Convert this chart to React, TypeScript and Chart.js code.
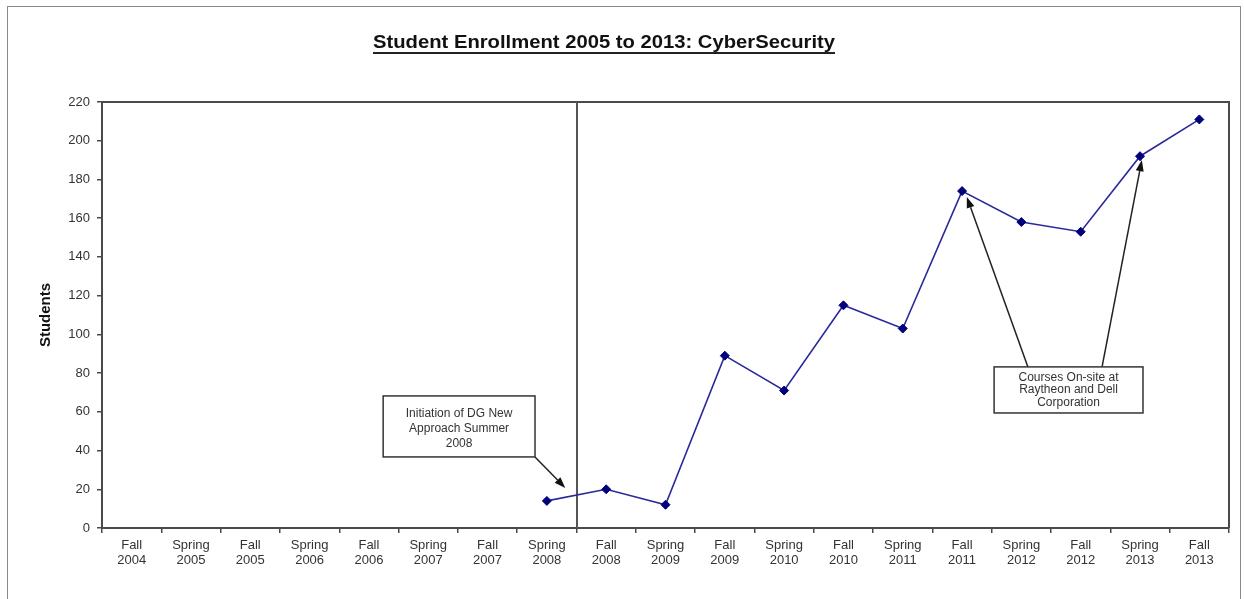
import React, { useEffect, useRef } from "react";
import { Chart, registerables } from "chart.js";

Chart.register(...registerables);

const TITLE = "Student Enrollment 2005 to 2013: CyberSecurity";
const Y_TITLE = "Students";
const CATEGORIES: string[][] = [
  ["Fall", "2004"], ["Spring", "2005"], ["Fall", "2005"], ["Spring", "2006"],
  ["Fall", "2006"], ["Spring", "2007"], ["Fall", "2007"], ["Spring", "2008"],
  ["Fall", "2008"], ["Spring", "2009"], ["Fall", "2009"], ["Spring", "2010"],
  ["Fall", "2010"], ["Spring", "2011"], ["Fall", "2011"], ["Spring", "2012"],
  ["Fall", "2012"], ["Spring", "2013"], ["Fall", "2013"],
];
const STUDENTS: (number | null)[] = [
  null, null, null, null, null, null, null, 14,
  20, 12, 89, 71, 115, 103, 174, 158, 153, 192, 211,
];
const Y_MIN = 0;
const Y_MAX = 220;
const Y_STEP = 20;

// divider between Spring 2008 and Fall 2008 (category index units)
const DIVIDER_AT = 7.5;

// annotation boxes in data units (x = category index, y = students)
const BOX_TEXTS: string[][] = [
  ["Initiation of DG New", "Approach Summer", "2008"],
  ["Courses On-site at", "Raytheon and Dell", "Corporation"],
];
const BOX_X0 = [4.24, 14.54];
const BOX_X1 = [6.8, 17.05];
const BOX_YTOP = [68.2, 83.2];
const BOX_YBOT = [36.7, 59.4];
const BOX_LINE_H = [15, 12.5];

// arrows: from -> to in data units
const ARROW_FROM_X = [6.8, 15.11, 16.36];
const ARROW_FROM_Y = [36.7, 83.2, 83.2];
const ARROW_TO_X = [7.31, 14.08, 17.03];
const ARROW_TO_Y = [20.7, 171, 190];

const FONT = "'Liberation Sans', Arial, sans-serif";
const AXIS_COLOR = "#4a4a4a";

const decorations = {
  id: "decorations",
  beforeDraw(chart: any) {
    const ctx = chart.ctx;
    ctx.save();
    ctx.fillStyle = "#ffffff";
    ctx.fillRect(0, 0, chart.width, chart.height);
    // outer frame
    ctx.strokeStyle = "#8a8a8a";
    ctx.lineWidth = 1;
    ctx.strokeRect(7.5, 6.5, 1233, chart.height + 10);
    // title, stretched horizontally
    ctx.font = `bold 18px ${FONT}`;
    ctx.fillStyle = "#111";
    ctx.textBaseline = "alphabetic";
    ctx.textAlign = "center";
    const w = ctx.measureText(TITLE).width;
    const target = 462;
    const cx = 604;
    ctx.translate(cx, 47.5);
    ctx.scale(target / w, 1);
    ctx.fillText(TITLE, 0, 0);
    ctx.setTransform(1, 0, 0, 1, 0, 0);
    ctx.fillStyle = "#222";
    ctx.fillRect(cx - target / 2, 52, target, 2);
    ctx.restore();
  },
  beforeDatasetsDraw(chart: any) {
    const ctx = chart.ctx;
    const { left, right, top, bottom } = chart.chartArea;
    const xs = chart.scales.x;
    ctx.save();
    ctx.strokeStyle = AXIS_COLOR;
    ctx.lineWidth = 2;
    ctx.beginPath();
    ctx.moveTo(left, top);
    ctx.lineTo(right, top);
    ctx.lineTo(right, bottom);
    ctx.stroke();
    const dx = xs.getPixelForValue(DIVIDER_AT);
    ctx.strokeStyle = "#555";
    ctx.beginPath();
    ctx.moveTo(Math.round(dx), top);
    ctx.lineTo(Math.round(dx), bottom);
    ctx.stroke();
    ctx.restore();
  },
  afterDraw(chart: any) {
    const ctx = chart.ctx;
    const xs = chart.scales.x;
    const ys = chart.scales.y;
    ctx.save();
    // arrows
    for (let i = 0; i < ARROW_FROM_X.length; i++) {
      const x1 = xs.getPixelForValue(ARROW_FROM_X[i]);
      const y1 = ys.getPixelForValue(ARROW_FROM_Y[i]);
      const x2 = xs.getPixelForValue(ARROW_TO_X[i]);
      const y2 = ys.getPixelForValue(ARROW_TO_Y[i]);
      const ang = Math.atan2(y2 - y1, x2 - x1);
      const hl = 11, hw = 4;
      const bx = x2 - hl * Math.cos(ang);
      const by = y2 - hl * Math.sin(ang);
      ctx.strokeStyle = "#222";
      ctx.lineWidth = 1.5;
      ctx.beginPath();
      ctx.moveTo(x1, y1);
      ctx.lineTo(bx, by);
      ctx.stroke();
      ctx.fillStyle = "#111";
      ctx.beginPath();
      ctx.moveTo(x2, y2);
      ctx.lineTo(bx + hw * Math.sin(ang), by - hw * Math.cos(ang));
      ctx.lineTo(bx - hw * Math.sin(ang), by + hw * Math.cos(ang));
      ctx.closePath();
      ctx.fill();
    }
    // boxes
    for (let i = 0; i < BOX_TEXTS.length; i++) {
      const x0 = xs.getPixelForValue(BOX_X0[i]);
      const x1 = xs.getPixelForValue(BOX_X1[i]);
      const y0 = ys.getPixelForValue(BOX_YTOP[i]);
      const y1 = ys.getPixelForValue(BOX_YBOT[i]);
      ctx.fillStyle = "#ffffff";
      ctx.fillRect(x0, y0, x1 - x0, y1 - y0);
      ctx.strokeStyle = "#333";
      ctx.lineWidth = 1.5;
      ctx.strokeRect(x0, y0, x1 - x0, y1 - y0);
      ctx.fillStyle = "#333";
      ctx.font = `12px ${FONT}`;
      ctx.textAlign = "center";
      ctx.textBaseline = "middle";
      const lines = BOX_TEXTS[i];
      const lh = BOX_LINE_H[i];
      const cy = (y0 + y1) / 2 + (i === 0 ? 2 : 0);
      const cxm = (x0 + x1) / 2;
      lines.forEach((t, k) => {
        ctx.fillText(t, cxm, cy + (k - (lines.length - 1) / 2) * lh);
      });
    }
    ctx.restore();
  },
};

export default function App() {
  const ref = useRef<HTMLCanvasElement | null>(null);
  useEffect(() => {
    if (!ref.current) return;
    const chart = new Chart(ref.current, {
      type: "line",
      data: {
        labels: CATEGORIES,
        datasets: [
          {
            label: "Students",
            data: STUDENTS,
            borderColor: "#2a2a9c",
            backgroundColor: "#00007a",
            borderWidth: 1.6,
            pointStyle: "rectRot",
            pointRadius: 4.5,
            pointBackgroundColor: "#00007a",
            pointBorderColor: "#00007a",
            pointBorderWidth: 1,
            tension: 0,
            spanGaps: false,
          },
        ],
      },
      options: {
        responsive: false,
        animation: false,
        events: [],
        layout: { padding: { left: 0, top: 102, right: 15, bottom: 0 } },
        plugins: {
          legend: { display: false },
          title: { display: false },
          tooltip: { enabled: false },
        },
        scales: {
          x: {
            type: "category",
            offset: true,
            grid: {
              offset: true,
              drawOnChartArea: false,
              drawTicks: true,
              tickLength: 5,
              color: AXIS_COLOR,
              lineWidth: 1.5,
            },
            border: { display: true, color: AXIS_COLOR, width: 2 },
            ticks: {
              color: "#333",
              font: { family: FONT, size: 13, lineHeight: 1.15 },
              padding: 5,
              maxRotation: 0,
              autoSkip: false,
            },
            afterFit(scale: any) {
              scale.height = 599 - 528;
            },
          },
          y: {
            min: Y_MIN,
            max: Y_MAX,
            grid: {
              drawOnChartArea: false,
              drawTicks: true,
              tickLength: 5,
              color: AXIS_COLOR,
              lineWidth: 1.5,
            },
            border: { display: true, color: AXIS_COLOR, width: 2 },
            ticks: {
              stepSize: Y_STEP,
              color: "#333",
              font: { family: FONT, size: 13 },
              padding: 7,
            },
            title: {
              display: true,
              text: Y_TITLE,
              color: "#111",
              font: { family: FONT, size: 15, weight: "bold" },
              padding: { top: 37, bottom: 0 },
            },
            afterFit(scale: any) {
              scale.width = 102;
            },
          },
        },
      },
      plugins: [decorations],
    });
    return () => chart.destroy();
  }, []);
  return (
    <div style={{ position: "absolute", left: 0, top: 0, width: 1244, height: 599, overflow: "hidden" }}>
      <canvas ref={ref} width={1244} height={599} style={{ display: "block" }} />
    </div>
  );
}
